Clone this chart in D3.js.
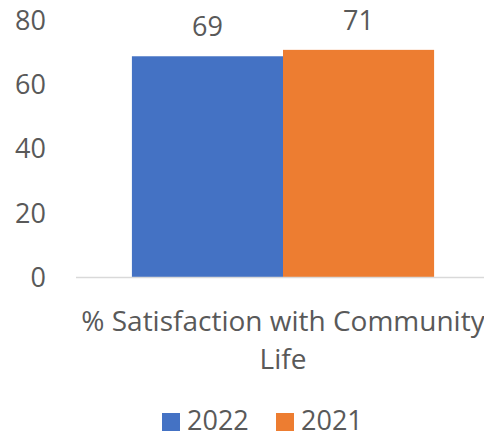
<!DOCTYPE html>
<html>
<head>
<meta charset="utf-8">
<script src="https://cdn.jsdelivr.net/npm/d3@7"></script>
<style>
  body { margin: 0; background: #fff; }
  text { font-family: "Open Sans", Lato, sans-serif; fill: #595959; }
</style>
</head>
<body>
<div id="chart"></div>
<script>
// data
var categories = ["% Satisfaction with Community Life"];
var categoryLines = ["% Satisfaction with Community", "Life"];
var seriesNames = ["2022", "2021"];
var seriesValues = [[69], [71]];
var seriesColors = ["#4472C4", "#ED7D31"];
var yTicks = [0, 20, 40, 60, 80];

var svgWidth = 484;
var svgHeight = 436;

var margin = { top: 21, right: -6, bottom: 158.5, left: 76 };
var chartWidth = svgWidth - margin.left - margin.right;
var chartHeight = svgHeight - margin.top - margin.bottom;

var svg = d3.select("#chart")
  .append("svg")
  .attr("width", svgWidth)
  .attr("height", svgHeight);

var chartGroup = svg.append("g")
  .attr("transform", `translate(${margin.left}, ${margin.top})`);

// scales
var x0 = d3.scaleBand()
  .domain(categories)
  .range([0, chartWidth])
  .paddingInner(0)
  .paddingOuter(0.185);

var x1 = d3.scaleBand()
  .domain(seriesNames)
  .range([0, x0.bandwidth()]);

var yScale = d3.scaleLinear()
  .domain([0, 80])
  .range([chartHeight, 0]);

// y axis labels only (no line, no ticks)
var leftAxis = d3.axisLeft(yScale)
  .tickValues(yTicks)
  .tickSize(0)
  .tickPadding(30);

var yAxisG = chartGroup.append("g").call(leftAxis);
yAxisG.select(".domain").remove();
yAxisG.selectAll("text")
  .style("font-size", "27px")
  .style("font-family", "'Open Sans', Lato, sans-serif")
  .attr("fill", "#595959");

// bars
var rows = [];
seriesNames.forEach(function(s, i) {
  categories.forEach(function(c, j) {
    rows.push({ series: s, cat: c, value: seriesValues[i][j], color: seriesColors[i] });
  });
});

chartGroup.selectAll("rect.bar")
  .data(rows)
  .enter()
  .append("rect")
  .attr("class", "bar")
  .attr("x", d => x0(d.cat) + x1(d.series))
  .attr("y", d => yScale(d.value))
  .attr("width", x1.bandwidth())
  .attr("height", d => chartHeight - yScale(d.value))
  .attr("fill", d => d.color);

// baseline
chartGroup.append("line")
  .attr("x1", 0)
  .attr("x2", svgWidth)
  .attr("y1", yScale(0))
  .attr("y2", yScale(0))
  .attr("stroke", "#D9D9D9")
  .attr("stroke-width", 1.5);

// value labels
chartGroup.selectAll("text.value")
  .data(rows)
  .enter()
  .append("text")
  .attr("class", "value")
  .attr("x", d => x0(d.cat) + x1(d.series) + x1.bandwidth() / 2)
  .attr("y", d => yScale(d.value) - 20)
  .attr("text-anchor", "middle")
  .style("font-size", "27px")
  .text(d => d.value);

// category label
var catLabel = chartGroup.append("text")
  .attr("text-anchor", "middle")
  .style("font-size", "28px");
catLabel.selectAll("tspan")
  .data(categoryLines)
  .enter()
  .append("tspan")
  .attr("x", x0(categories[0]) + x0.bandwidth() / 2)
  .attr("y", (d, i) => chartHeight + 53.5 + i * 38)
  .text(d => d);

// legend
var legend = svg.append("g")
  .attr("transform", "translate(162, 413)");
var legendX = [0, 114];
seriesNames.forEach(function(s, i) {
  legend.append("rect")
    .attr("x", legendX[i])
    .attr("y", 0)
    .attr("width", 18)
    .attr("height", 18)
    .attr("fill", seriesColors[i]);
  legend.append("text")
    .attr("x", legendX[i] + 25)
    .attr("y", 16.5)
    .style("font-size", "27px")
    .text(s);
});
</script>
</body>
</html>
